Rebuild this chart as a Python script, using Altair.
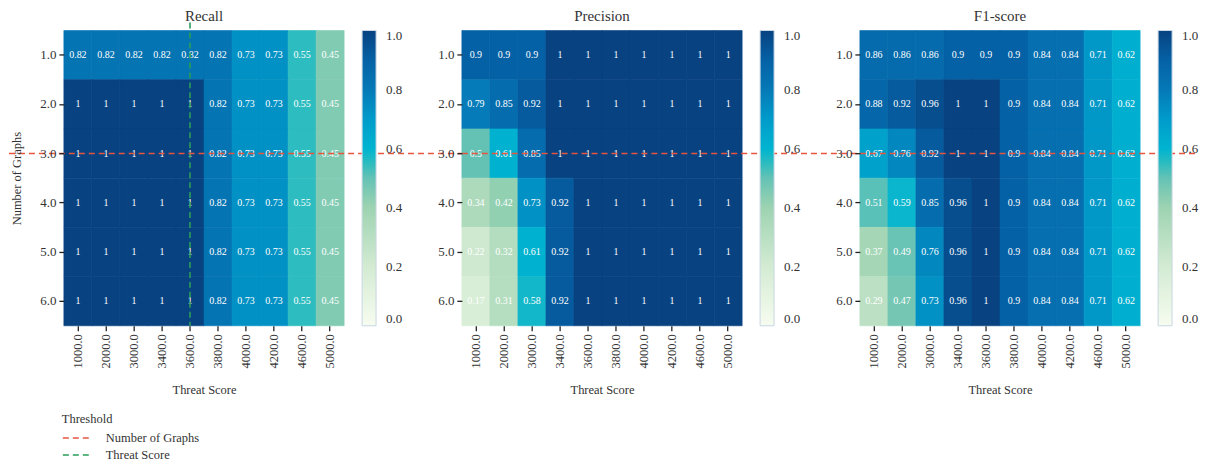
import altair as alt
import pandas as pd

thresholds = ["1000.0", "2000.0", "3000.0", "3400.0", "3600.0", "3800.0", "4000.0", "4200.0", "4600.0", "5000.0"]
graphs = ["1.0", "2.0", "3.0", "4.0", "5.0", "6.0"]

recall = [
    [0.82, 0.82, 0.82, 0.82, 0.82, 0.82, 0.73, 0.73, 0.55, 0.45],
    [1, 1, 1, 1, 1, 0.82, 0.73, 0.73, 0.55, 0.45],
    [1, 1, 1, 1, 1, 0.82, 0.73, 0.73, 0.55, 0.45],
    [1, 1, 1, 1, 1, 0.82, 0.73, 0.73, 0.55, 0.45],
    [1, 1, 1, 1, 1, 0.82, 0.73, 0.73, 0.55, 0.45],
    [1, 1, 1, 1, 1, 0.82, 0.73, 0.73, 0.55, 0.45],
]
precision = [
    [0.9, 0.9, 0.9, 1, 1, 1, 1, 1, 1, 1],
    [0.79, 0.85, 0.92, 1, 1, 1, 1, 1, 1, 1],
    [0.5, 0.61, 0.85, 1, 1, 1, 1, 1, 1, 1],
    [0.34, 0.42, 0.73, 0.92, 1, 1, 1, 1, 1, 1],
    [0.22, 0.32, 0.61, 0.92, 1, 1, 1, 1, 1, 1],
    [0.17, 0.31, 0.58, 0.92, 1, 1, 1, 1, 1, 1],
]
f1 = [
    [0.86, 0.86, 0.86, 0.9, 0.9, 0.9, 0.84, 0.84, 0.71, 0.62],
    [0.88, 0.92, 0.96, 1, 1, 0.9, 0.84, 0.84, 0.71, 0.62],
    [0.67, 0.76, 0.92, 1, 1, 0.9, 0.84, 0.84, 0.71, 0.62],
    [0.51, 0.59, 0.85, 0.96, 1, 0.9, 0.84, 0.84, 0.71, 0.62],
    [0.37, 0.49, 0.76, 0.96, 1, 0.9, 0.84, 0.84, 0.71, 0.62],
    [0.29, 0.47, 0.73, 0.96, 1, 0.9, 0.84, 0.84, 0.71, 0.62],
]
titles = ["Recall", "Precision", "F1-score"]

graph_threshold = "3.0"
score_threshold = "3600.0"
legend_kinds = ["Number of Graphs", "Threat Score"]
legend_colors = ["#e8553f", "#2a9d58"]

cmap_stops = [0.0, 0.2, 0.4, 0.5, 0.55, 0.6, 0.7, 0.8, 0.9, 1.0]
cmap_colors = ["#f7fcf0", "#d3ebd2", "#9dd3b1", "#64c2b5", "#2dbcbf", "#00b4d0",
               "#009bca", "#0579b7", "#0561a5", "#084281"]

FONT = "Liberation Serif"
TXT = "#333333"
W, H = 281, 296
PITCH = 399

color_scale = alt.Scale(domain=cmap_stops, range=cmap_colors, interpolate="rgb")


def panel(values, title, idx):
    rows = []
    for gi, g in enumerate(graphs):
        for ti, t in enumerate(thresholds):
            rows.append({"g": g, "t": t, "v": values[gi][ti]})
    df = pd.DataFrame(rows)
    base = alt.Chart(df)
    x = alt.X("t:O", sort=thresholds, title="Threat Score",
              scale=alt.Scale(paddingInner=0, paddingOuter=0),
              axis=alt.Axis(labelAngle=270, domain=False, tickSize=5, tickWidth=1.3,
                            tickColor="#222", labelPadding=3, titlePadding=16,
                            labelFontSize=12.5, titleFontSize=12.5, labelBaseline="middle",
                            labelFont=FONT, titleFont=FONT, labelColor=TXT, titleColor=TXT,
                            titleFontWeight="normal"))
    y = alt.Y("g:O", sort=graphs,
              title="Number of Graphs" if idx == 0 else None,
              scale=alt.Scale(paddingInner=0, paddingOuter=0),
              axis=alt.Axis(domain=False, tickSize=5, tickWidth=1.3, tickColor="#222",
                            labelPadding=3, labelFontSize=13, titleFontSize=12.5,
                            titlePadding=16, labelAngle=0, labelFont=FONT, titleFont=FONT,
                            labelColor=TXT, titleColor=TXT, titleFontWeight="normal"))
    rect = base.mark_rect(strokeWidth=0.6).encode(
        x=x, y=y,
        color=alt.Color("v:Q", scale=color_scale, title=None,
                        legend=alt.Legend(orient="right", offset=18, gradientLength=H,
                                          gradientThickness=14, values=[0, 0.2, 0.4, 0.6, 0.8, 1.0],
                                          format=".1f", labelFontSize=13, labelColor=TXT,
                                          labelFont=FONT,
                                          gradientStrokeColor="#c9d6e3", gradientStrokeWidth=1,
                                          labelOffset=10)),
        stroke=alt.Stroke("v:Q", scale=color_scale, legend=None),
    )
    text = base.mark_text(color="white", fontSize=10, font=FONT).encode(
        x=alt.X("t:O", sort=thresholds), y=alt.Y("g:O", sort=graphs),
        text=alt.Text("v:Q", format=".2~g"),
    )
    if idx == 0:
        hdf = pd.DataFrame({"g": [graph_threshold], "kind": [legend_kinds[0]]})
        vdf = pd.DataFrame({"t": [score_threshold], "kind": [legend_kinds[1]]})
        stroke = alt.Stroke("kind:N", scale=alt.Scale(domain=legend_kinds, range=legend_colors),
                            legend=alt.Legend(title="Threshold", orient="none", legendX=-2,
                                              legendY=383, symbolType="M-1,0H2.3", symbolSize=324,
                                              symbolDash=[6, 4], symbolStrokeWidth=1.6,
                                              symbolFillColor="transparent",
                                              labelFontSize=12.5, titleFontSize=12.5,
                                              labelFont=FONT, titleFont=FONT,
                                              titleFontWeight="normal", labelColor=TXT,
                                              titleColor=TXT, rowPadding=0, labelOffset=24,
                                              titlePadding=3))
        vrule = alt.Chart(vdf).mark_rule(strokeDash=[6, 4], strokeWidth=1.6).encode(
            x=alt.X("t:O", sort=thresholds), y=alt.value(-8), y2=alt.value(H), stroke=stroke)
        hrule = alt.Chart(hdf).mark_rule(strokeDash=[6, 4], strokeWidth=1.6).encode(
            y=alt.Y("g:O", sort=graphs), x=alt.value(-55), x2=alt.value(PITCH), stroke=stroke)
        rules = alt.layer(vrule, hrule)
        toff = -2
    else:
        hdf = pd.DataFrame({"g": [graph_threshold]})
        x2 = PITCH if idx == 1 else 336
        rules = alt.Chart(hdf).mark_rule(strokeDash=[6, 4], strokeWidth=1.6,
                                         color=legend_colors[0]).encode(
            y=alt.Y("g:O", sort=graphs), x=alt.value(0), x2=alt.value(x2))
        toff = 6
    return alt.layer(rect, text, rules).resolve_scale(stroke="independent").properties(
        width=W, height=H,
        title=alt.TitleParams(title, fontSize=15, font=FONT, fontWeight="normal",
                              color=TXT, offset=toff),
    )


panels = [panel(v, t, i) for i, (v, t) in enumerate(zip([recall, precision, f1], titles))]
chart = alt.hconcat(*panels, spacing=PITCH - W, bounds="flush").resolve_scale(
    color="independent", stroke="independent"
).configure(font=FONT, padding={"left": 0, "top": 0, "right": 0, "bottom": 0}).configure_view(
    stroke=None
)

chart.save("out.html", embed_options={"renderer": "svg", "actions": False})
